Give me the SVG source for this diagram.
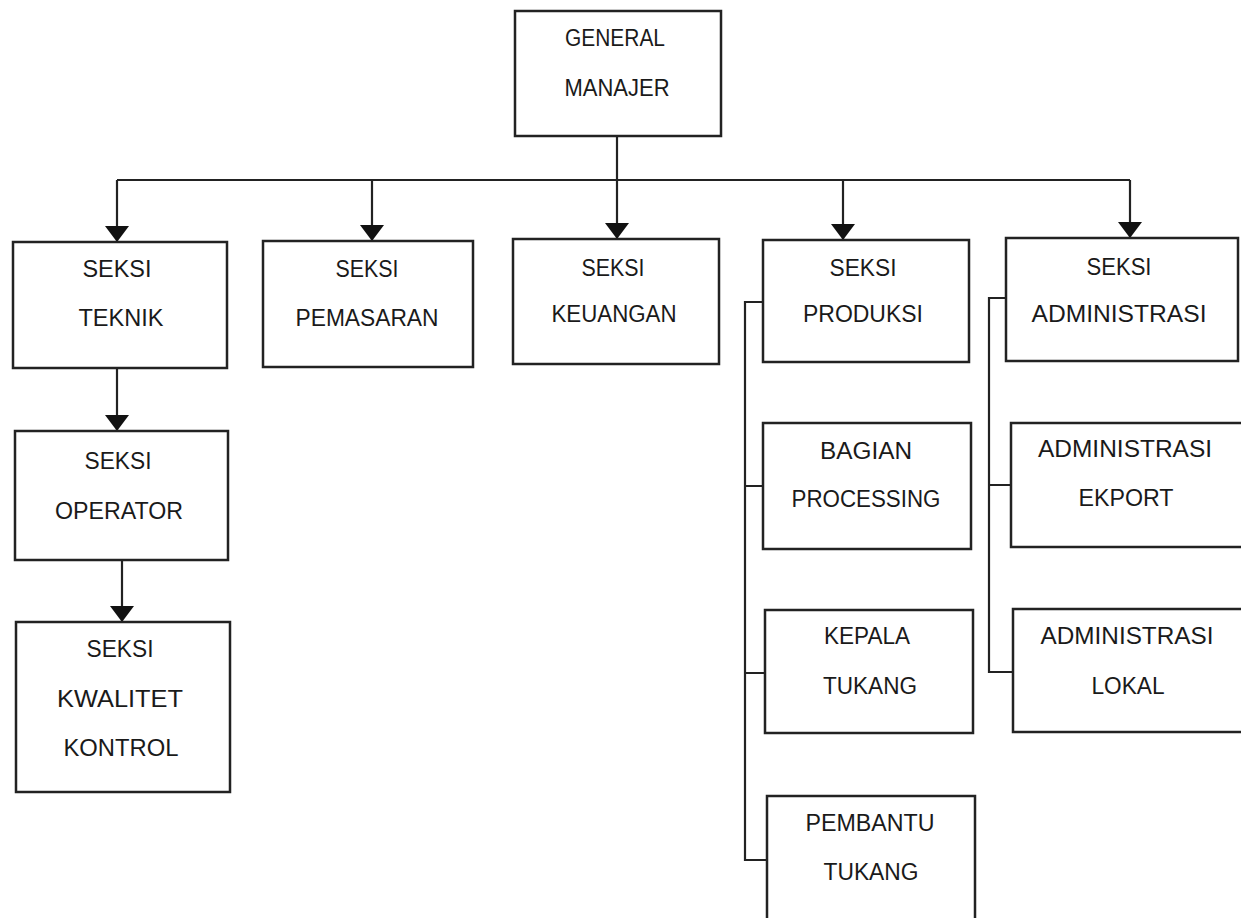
<svg xmlns="http://www.w3.org/2000/svg" width="1241" height="918" viewBox="0 0 1241 918">
<style>
.box{fill:#fff;stroke:#222;stroke-width:2.5}
.ln{fill:none;stroke:#222;stroke-width:2.2}
text{font-family:"Liberation Sans",Arial,sans-serif;font-size:23px;fill:#1a1a1a;text-anchor:middle}
</style>
<defs>
<marker id="ah" viewBox="0 0 16 24" refX="16" refY="12" markerWidth="16" markerHeight="24" markerUnits="userSpaceOnUse" orient="auto">
<path d="M0,0 L16,12 L0,24 Z" fill="#111"/>
</marker>
</defs>
<rect width="1241" height="918" fill="#fff"/>
<g id="connectors">
<path class="ln" d="M617,136 V239" marker-end="url(#ah)"/>
<path class="ln" d="M117,180 H1130"/>
<path class="ln" d="M117,180 V242" marker-end="url(#ah)"/>
<path class="ln" d="M372,180 V241" marker-end="url(#ah)"/>
<path class="ln" d="M843,180 V240" marker-end="url(#ah)"/>
<path class="ln" d="M1130,180 V238" marker-end="url(#ah)"/>
<path class="ln" d="M117,368 V431" marker-end="url(#ah)"/>
<path class="ln" d="M122,560 V622" marker-end="url(#ah)"/>
<path class="ln" d="M763,302 H745 V860 H767 M745,486 H763 M745,673 H765"/>
<path class="ln" d="M1006,298 H989 V672 H1013 M989,485 H1011"/>
</g>
<g id="general-manajer"><rect class="box" x="515" y="11" width="206" height="125"/><text x="615" y="46" textLength="100" lengthAdjust="spacingAndGlyphs">GENERAL</text><text x="617" y="96" textLength="105" lengthAdjust="spacingAndGlyphs">MANAJER</text></g>
<g id="seksi-teknik"><rect class="box" x="13" y="242" width="214" height="126"/><text x="117" y="277" textLength="69" lengthAdjust="spacingAndGlyphs">SEKSI</text><text x="121" y="326" textLength="85" lengthAdjust="spacingAndGlyphs">TEKNIK</text></g>
<g id="seksi-pemasaran"><rect class="box" x="263" y="241" width="210" height="126"/><text x="367" y="277" textLength="63" lengthAdjust="spacingAndGlyphs">SEKSI</text><text x="367" y="326" textLength="143" lengthAdjust="spacingAndGlyphs">PEMASARAN</text></g>
<g id="seksi-keuangan"><rect class="box" x="513" y="239" width="206" height="125"/><text x="613" y="276" textLength="63" lengthAdjust="spacingAndGlyphs">SEKSI</text><text x="614" y="322" textLength="125" lengthAdjust="spacingAndGlyphs">KEUANGAN</text></g>
<g id="seksi-produksi"><rect class="box" x="763" y="240" width="206" height="122"/><text x="863" y="276" textLength="67" lengthAdjust="spacingAndGlyphs">SEKSI</text><text x="863" y="322" textLength="120" lengthAdjust="spacingAndGlyphs">PRODUKSI</text></g>
<g id="seksi-administrasi"><rect class="box" x="1006" y="238" width="232" height="123"/><text x="1119" y="275" textLength="65" lengthAdjust="spacingAndGlyphs">SEKSI</text><text x="1119" y="322" textLength="175" lengthAdjust="spacingAndGlyphs">ADMINISTRASI</text></g>
<g id="seksi-operator"><rect class="box" x="15" y="431" width="213" height="129"/><text x="118" y="469" textLength="67" lengthAdjust="spacingAndGlyphs">SEKSI</text><text x="119" y="519" textLength="128" lengthAdjust="spacingAndGlyphs">OPERATOR</text></g>
<g id="seksi-kwalitet-kontrol"><rect class="box" x="16" y="622" width="214" height="170"/><text x="120" y="657" textLength="67" lengthAdjust="spacingAndGlyphs">SEKSI</text><text x="120" y="707" textLength="126" lengthAdjust="spacingAndGlyphs">KWALITET</text><text x="121" y="756" textLength="115" lengthAdjust="spacingAndGlyphs">KONTROL</text></g>
<g id="bagian-processing"><rect class="box" x="763" y="423" width="208" height="126"/><text x="866" y="459" textLength="92" lengthAdjust="spacingAndGlyphs">BAGIAN</text><text x="866" y="507" textLength="149" lengthAdjust="spacingAndGlyphs">PROCESSING</text></g>
<g id="kepala-tukang"><rect class="box" x="765" y="610" width="208" height="123"/><text x="867" y="644" textLength="86" lengthAdjust="spacingAndGlyphs">KEPALA</text><text x="870" y="694" textLength="94" lengthAdjust="spacingAndGlyphs">TUKANG</text></g>
<g id="pembantu-tukang"><rect class="box" x="767" y="796" width="208" height="135"/><text x="870" y="831" textLength="129" lengthAdjust="spacingAndGlyphs">PEMBANTU</text><text x="871" y="880" textLength="95" lengthAdjust="spacingAndGlyphs">TUKANG</text></g>
<g id="administrasi-ekport"><rect class="box" x="1011" y="423" width="240" height="124"/><text x="1125" y="457" textLength="174" lengthAdjust="spacingAndGlyphs">ADMINISTRASI</text><text x="1126" y="506" textLength="95" lengthAdjust="spacingAndGlyphs">EKPORT</text></g>
<g id="administrasi-lokal"><rect class="box" x="1013" y="609" width="240" height="123"/><text x="1127" y="644" textLength="173" lengthAdjust="spacingAndGlyphs">ADMINISTRASI</text><text x="1128" y="694" textLength="73" lengthAdjust="spacingAndGlyphs">LOKAL</text></g>
</svg>
